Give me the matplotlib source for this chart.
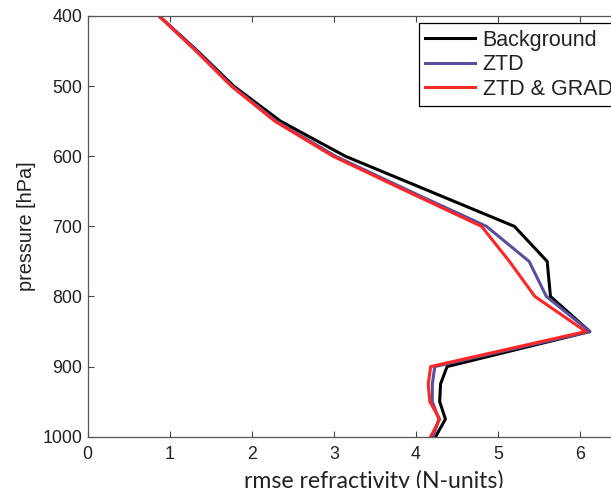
import numpy as np
import matplotlib
matplotlib.use("Agg")
import matplotlib.pyplot as plt

# pressure levels and rmse profiles
pressure = [400, 450, 500, 550, 600, 650, 700, 750, 800, 850, 900, 925, 950, 975, 1000]
background = [0.87, 1.34, 1.78, 2.35, 3.14, 4.17, 5.20, 5.60, 5.64, 6.12, 4.38, 4.30, 4.29, 4.36, 4.24]
ztd = [0.87, 1.33, 1.76, 2.30, 3.02, 3.93, 4.86, 5.38, 5.59, 6.12, 4.23, 4.20, 4.20, 4.28, 4.21]
ztd_grad = [0.87, 1.32, 1.75, 2.28, 2.99, 3.89, 4.80, 5.14, 5.45, 6.07, 4.18, 4.15, 4.17, 4.29, 4.18]
labels = ["Background", "ZTD", "ZTD & GRAD"]
xticks = [0, 1, 2, 3, 4, 5, 6]
yticks = [400, 500, 600, 700, 800, 900, 1000]

plt.rcParams['font.family'] = ['Liberation Sans', 'DejaVu Sans']

W, H = 611, 488
fig = plt.figure(figsize=(W/100, H/100), dpi=100)
# axes runs past the right edge of the picture (cropped like the original)
x0, x1 = 87.7, 87.7 + 6.5*82.05
ytop, ybot = 16.0, 436.7
ax = fig.add_axes([x0/W, 1 - ybot/H, (x1 - x0)/W, (ybot - ytop)/H])

ax.plot(background, pressure, color='black', lw=2.2, label=labels[0])
ax.plot(ztd, pressure, color='#5a4f9e', lw=2.2, label=labels[1])
ax.plot(ztd_grad, pressure, color='#ff2626', lw=2.2, label=labels[2])

ax.set_xlim(0, 6.5)
ax.set_ylim(1000, 400)
ax.set_xticks(xticks)
ax.set_yticks(yticks)
ax.tick_params(direction='in', length=4, width=0.8, colors='#444444',
               labelcolor='#222222', labelsize=12.8, top=True, right=True)
ax.tick_params(axis='x', pad=7)
ax.tick_params(axis='y', pad=4)
for s in ax.spines.values():
    s.set_color('#555555')
    s.set_linewidth(0.9)

ax.set_ylabel("pressure [hPa]", fontsize=14.3, color='#222222')
ax.yaxis.set_label_coords(-(x0 - 36)/(x1 - x0), 0.5)
fig.text((241 + 507)/2/W, 1 - 481/H, "rmse refractivity (N-units)", fontsize=16.6,
         family=['Lato', 'DejaVu Sans'], color='#222222', ha='center', va='center')

leg = ax.legend(loc='upper left', bbox_to_anchor=(419/W, 1 - 23.3/H),
                bbox_transform=fig.transFigure, fontsize=15.5, frameon=True,
                fancybox=False, edgecolor='black', framealpha=1,
                handlelength=2.3, handletextpad=0.35, labelspacing=0.16,
                borderpad=0.3, borderaxespad=0)
leg.get_frame().set_linewidth(0.9)
for t in leg.get_texts():
    t.set_color('#222222')

fig.savefig("out.png", dpi=100)
